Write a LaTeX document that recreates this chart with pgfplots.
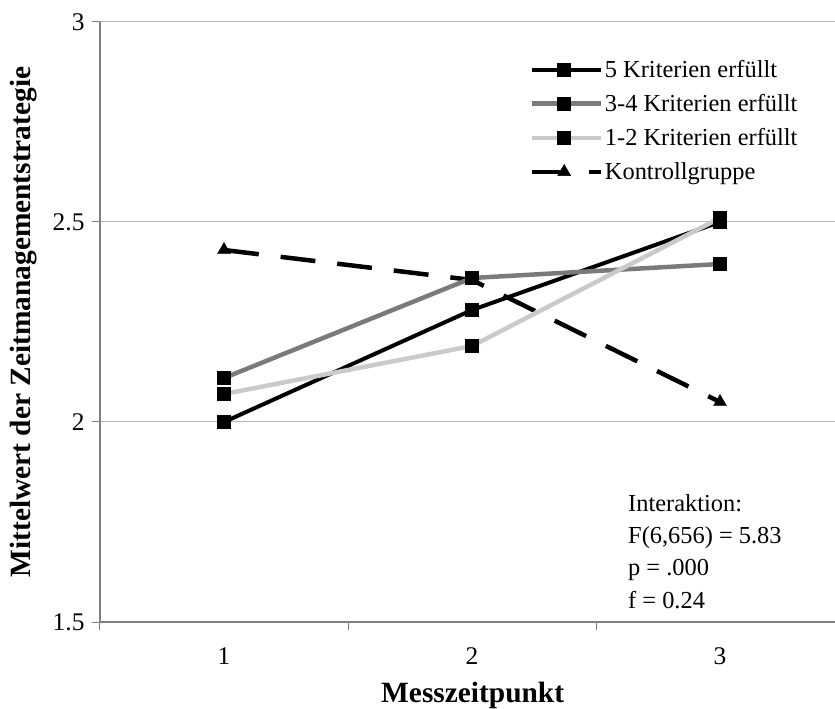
\documentclass[border=0pt]{standalone}
\usepackage{fontspec}
\setmainfont{Liberation Serif}
\usepackage{pgfplots}
\pgfplotsset{compat=1.18}
\definecolor{axgray}{HTML}{808080}
\definecolor{gridgray}{HTML}{B4B4B4}
\definecolor{midgray}{HTML}{7A7A7A}
\definecolor{lightgray}{HTML}{CACACA}
\begin{document}
\begin{tikzpicture}
\begin{axis}[
  scale only axis, width=735bp, height=600bp,
  xmin=0.5, xmax=3.4637, ymin=1.5, ymax=3,
  axis lines=left,
  axis line style={-, draw=axgray, line width=1.3bp},
  every outer x axis line/.append style={-},
  every outer y axis line/.append style={-},
  clip=false,
  xtick={0.5,1.5,2.5},
  xticklabels={},
  extra x ticks={1,2,3},
  extra x tick labels={1,2,3},
  extra x tick style={major tick length=0pt, grid=none},
  ytick={1.5,2,2.5,3},
  yticklabels={1.5,2,2.5,3},
  tick align=outside,
  major tick length=8bp,
  tick style={draw=axgray, line width=1bp},
  ymajorgrids=true,
  grid style={draw=gridgray, line width=1bp},
  /pgf/number format/assume math mode=true,
  tick label style={font=\fontsize{25.5}{29}\selectfont},
  xticklabel style={yshift=-22bp},
  yticklabel style={xshift=-4bp},
  xlabel={\textbf{Messzeitpunkt}},
  ylabel={\textbf{Mittelwert der Zeitmanagementstrategie}},
  label style={font=\fontsize{29.5}{33}\selectfont},
  xlabel style={at={(rel axis cs:0.507,0)}, anchor=center, yshift=-73bp},
  ylabel style={at={(rel axis cs:0,0.5)}, anchor=center, yshift=76bp},
  legend style={at={(rel axis cs:0.584,0.94)}, anchor=north west, draw=none, fill=none,
    font=\fontsize{24.5}{29}\selectfont, row sep=11.5bp, inner sep=0pt},
  legend cell align=left,
  legend image code/.code={\path (0bp,0bp) -- (69bp,0bp);\draw[mark repeat=2,mark phase=2] plot coordinates {(0bp,0bp)(32.5bp,0bp)(65bp,0bp)};},
]
% Kontrollgruppe drawn first (behind the squares)
\addplot[black, line width=4.5bp, dash pattern=on 35bp off 22bp, mark=triangle*, mark size=7.5bp, mark options={solid, line width=0.4bp}, forget plot]
  coordinates {(1,2.43) (2,2.355) (3,2.05)};
\addplot[black, line width=4bp, mark=square*, mark size=6.5bp, mark options={solid, line width=0.4bp}]
  coordinates {(1,2.00) (2,2.28) (3,2.50)};
\addlegendentry{5 Kriterien erfüllt}
\addplot[midgray, line width=4.5bp, mark=square*, mark size=6.5bp, mark options={solid, black, line width=0.4bp}]
  coordinates {(1,2.11) (2,2.36) (3,2.395)};
\addlegendentry{3-4 Kriterien erfüllt}
\addplot[lightgray, line width=4.5bp, mark=square*, mark size=6.5bp, mark options={solid, black, line width=0.4bp}]
  coordinates {(1,2.07) (2,2.19) (3,2.51)};
\addlegendentry{1-2 Kriterien erfüllt}
\addlegendimage{black, line width=4.5bp, dash pattern=on 35bp off 22bp, mark=triangle*, mark size=7.5bp, mark options={solid, line width=0.4bp}}
\addlegendentry{Kontrollgruppe}
\node[anchor=north west, align=left, inner sep=0pt, font=\fontsize{24.5}{32.5}\selectfont]
  at (axis cs:2.629,1.82) {Interaktion:\\F(6,656) = 5.83\\p = .000\\f = 0.24};
\coordinate (SW) at (rel axis cs:0,0);
\coordinate (NE) at (rel axis cs:1,1);
\end{axis}
\pgfresetboundingbox
\path[use as bounding box] ([xshift=-100bp,yshift=-87bp]SW) rectangle ([yshift=22bp]NE);
\end{tikzpicture}
\end{document}
